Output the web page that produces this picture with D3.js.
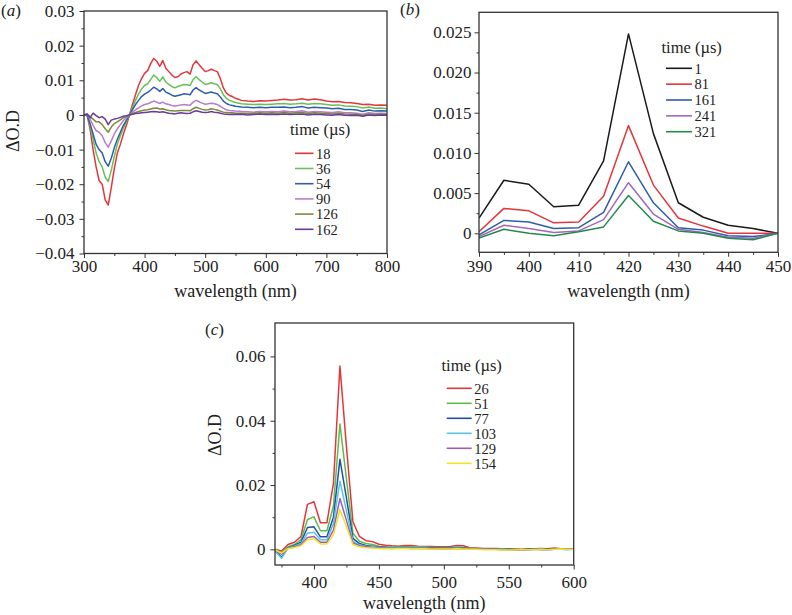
<!DOCTYPE html>
<html>
<head>
<meta charset="utf-8">
<script src="https://cdn.jsdelivr.net/npm/d3@7"></script>
<style>
  html, body { margin: 0; padding: 0; background: #fff; }
  svg { display: block; }
  svg text { font-family: "Liberation Serif", "Times New Roman", serif; fill: #222; }
</style>
</head>
<body>
<svg id="chart" width="792" height="615"></svg>
<script>
// ---------------- Panel (a) data ----------------
const wlA = [300,305,310,315,320,325,330,335,340,345,350,355,360,365,370,375,380,385,390,395,
  400,405,410,415,420,425,430,435,440,445,450,455,460,465,470,475,480,485,490,495,
  500,505,510,515,520,525,530,535,540,545,550,
  560,570,580,590,600,610,620,630,640,650,660,670,680,690,700,710,720,730,740,750,760,770,780,790,800];
const timesA = ["18","36","54","90","126","162"];
const a18 = [0,0,-0.004,-0.010,-0.015,-0.019,-0.020,-0.0245,-0.026,-0.021,-0.0155,-0.011,-0.0085,-0.0055,-0.003,0,0.003,0.0058,0.0085,0.0105,
  0.012,0.0128,0.0148,0.0163,0.0155,0.014,0.0157,0.0135,0.0125,0.0115,0.0108,0.011,0.0118,0.0122,0.0125,0.0118,0.0145,0.0156,0.0145,0.0135,
  0.0125,0.0128,0.0132,0.0128,0.0125,0.0105,0.0078,0.0063,0.0056,0.0053,0.0048,
  0.0042,0.0040,0.0039,0.0041,0.0040,0.0042,0.0043,0.0045,0.0043,0.0044,0.0047,0.0043,0.0046,0.0044,0.0040,0.0038,0.0039,0.0036,0.0035,0.0033,0.0030,0.0031,0.0028,0.0029,0.0028];
const a36 = [0,0,-0.003,-0.007,-0.011,-0.0135,-0.015,-0.018,-0.0192,-0.016,-0.012,-0.0085,-0.006,-0.0038,-0.002,0,0.0022,0.0042,0.006,0.0075,
  0.0085,0.009,0.0102,0.0115,0.0108,0.0097,0.011,0.0095,0.0088,0.0082,0.0078,0.0082,0.0085,0.0088,0.0087,0.0085,0.0102,0.011,0.0102,0.0095,
  0.0088,0.009,0.0093,0.009,0.0088,0.0075,0.0058,0.0048,0.0042,0.0039,0.0036,
  0.0032,0.0031,0.0030,0.0031,0.0030,0.0031,0.0032,0.0033,0.0031,0.0032,0.0034,0.0031,0.0033,0.0032,0.0030,0.0028,0.0029,0.0026,0.0025,0.0024,0.0020,0.0023,0.0019,0.0020,0.0018];
const a54 = [0,0,-0.0025,-0.0055,-0.0085,-0.010,-0.011,-0.0135,-0.0148,-0.0125,-0.0095,-0.007,-0.005,-0.003,-0.0015,0,0.0015,0.003,0.0042,0.0053,
  0.006,0.0065,0.0072,0.008,0.0075,0.0068,0.0076,0.0066,0.0062,0.0057,0.0054,0.0056,0.0058,0.0061,0.0060,0.0058,0.0072,0.0079,0.0072,0.0067,
  0.0062,0.0064,0.0066,0.0063,0.0061,0.0052,0.0040,0.0033,0.0029,0.0027,0.0025,
  0.0023,0.0022,0.0021,0.0022,0.0021,0.0022,0.0022,0.0023,0.0021,0.0022,0.0024,0.0020,0.0022,0.0021,0.0020,0.0018,0.0019,0.0016,0.0016,0.0014,0.0010,0.0014,0.0011,0.0012,0.0011];
const a90 = [0,0.0002,-0.0012,-0.003,-0.0045,-0.005,-0.006,-0.008,-0.0093,-0.0075,-0.0055,-0.004,-0.0028,-0.0016,-0.0008,0,0.0008,0.0015,0.002,0.0026,
  0.003,0.0032,0.0036,0.004,0.0037,0.0033,0.0037,0.0032,0.003,0.0027,0.0026,0.0027,0.0029,0.003,0.0029,0.0028,0.0037,0.0042,0.0038,0.0034,
  0.0031,0.0032,0.0034,0.0032,0.0030,0.0025,0.0019,0.0015,0.0013,0.0012,0.0011,
  0.0010,0.0009,0.0008,0.0010,0.0009,0.0010,0.0009,0.0011,0.0009,0.0010,0.0012,0.0008,0.0010,0.0009,0.0008,0.0007,0.0009,0.0006,0.0006,0.0005,0.0002,0.0006,0.0004,0.0005,0.0004];
const a126 = [0,0.0003,-0.0005,-0.0012,-0.002,-0.002,-0.0028,-0.004,-0.005,-0.0035,-0.0025,-0.002,-0.0014,-0.0008,-0.0004,0,0.0004,0.0007,0.001,0.0012,
  0.0014,0.0015,0.0017,0.0019,0.002,0.0017,0.0018,0.0015,0.0013,0.0012,0.0011,0.0012,0.0013,0.0013,0.0013,0.0012,0.0018,0.0022,0.0019,0.0016,
  0.0014,0.0015,0.0018,0.0016,0.0014,0.0011,0.0008,0.0007,0.0006,0.0006,0.0005,
  0.0005,0.0004,0.0004,0.0006,0.0005,0.0006,0.0005,0.0007,0.0005,0.0006,0.0007,0.0004,0.0006,0.0005,0.0004,0.0003,0.0005,0.0003,0.0002,0.0002,-0.0001,0.0003,0.0001,0.0002,0.0001];
const a162 = [0,0.0002,-0.0008,0.0005,-0.0002,-0.0008,-0.0005,-0.0012,-0.0028,-0.0015,-0.0012,-0.001,-0.0007,-0.0004,-0.0002,0,0.0002,0.0004,0.0005,0.0006,
  0.0007,0.0008,0.0009,0.001,0.0009,0.0008,0.0009,0.0007,0.0005,0.0004,0.0003,0.0005,0.0006,0.0005,0.0004,0.0005,0.0009,0.0012,0.001,0.0008,
  0.0007,0.0008,0.001,0.0008,0.0007,0.0005,0.0003,0.0002,0.0001,0.0002,0.0001,
  0.0002,0.0000,0.0001,0.0003,0.0001,0.0002,0.0001,0.0003,0.0001,0.0002,0.0003,0.0000,0.0002,0.0001,0.0000,-0.0001,0.0001,-0.0001,-0.0002,-0.0001,-0.0004,0.0000,-0.0002,0.0000,-0.0001];
const colorsA = ["#e2363b","#68c058","#2d5ea8","#b87cc9","#7b8a3a","#6b3a9a"];
const xTicksA = [300,400,500,600,700,800];
const yTicksA = [0.03,0.02,0.01,0,-0.01,-0.02,-0.03,-0.04];
const yLabelsA = ["0.03","0.02","0.01","0","\u22120.01","\u22120.02","\u22120.03","\u22120.04"];

// ---------------- Panel (b) data ----------------
const wlB = [390,395,400,405,410,415,420,425,430,435,440,445,450];
const timesB = ["1","81","161","241","321"];
const b1   = [0.0019,0.0066,0.0061,0.0033,0.0035,0.0090,0.0248,0.0124,0.0038,0.0020,0.0010,0.0006,0];
const b81  = [0.0002,0.0031,0.0028,0.0013,0.0014,0.0046,0.0134,0.0060,0.0019,0.0009,0,0,0];
const b161 = [-0.0002,0.0016,0.0014,0.0006,0.0007,0.0026,0.0089,0.0038,0.0007,0.0004,-0.0003,-0.0004,0];
const b241 = [-0.0004,0.0010,0.0006,0.0001,0.0003,0.0017,0.0063,0.0024,0.0005,0.0001,-0.0005,-0.0006,0];
const b321 = [-0.0006,0.0005,0,-0.0003,0.0002,0.0008,0.0047,0.0015,0.0003,0,-0.0006,-0.0008,0];
const colorsB = ["#1a1a1a","#e2363b","#2d5ea8","#a466b8","#238a4e"];
const xTicksB = [390,400,410,420,430,440,450];
const yTicksB = [0,0.005,0.010,0.015,0.020,0.025];
const yLabelsB = ["0","0.005","0.010","0.015","0.020","0.025"];

// ---------------- Panel (c) data ----------------
const wlC = [370,375,380,385,390,395,400,405,410,415,420,425,430,435,440,445,450,455,460,465,470,475,480,485,490,495,
  500,505,510,515,520,525,530,535,540,545,550,555,560,565,570,575,580,585,590,595,600];
const timesC = ["26","51","77","103","129","154"];
const c26 = [0,-0.0005,0.0015,0.0022,0.004,0.014,0.0148,0.0083,0.0083,0.0205,0.057,0.032,0.0086,0.004,0.0027,0.0024,0.0016,0.0013,0.0011,0.0010,0.0012,0.0012,0.0010,0.0009,0.0009,0.0008,
  0.0008,0.0009,0.0012,0.0011,0.0005,0.0004,0.0003,0.0003,0.0003,0.0002,0.0002,0.0001,0.0000,0.0001,0.0002,0.0003,0.0002,0.0004,0.0002,0.0001,0];
const c51 = [0,-0.001,0.0008,0.0015,0.003,0.0093,0.0101,0.0058,0.0058,0.0135,0.039,0.022,0.005,0.0025,0.0018,0.0015,0.0010,0.0008,0.0007,0.0008,0.0009,0.0008,0.0007,0.0007,0.0006,0.0006,
  0.0005,0.0006,0.0007,0.0006,0.0003,0.0003,0.0002,0.0002,0.0002,0.0001,0.0001,0.0000,-0.0001,0.0000,0.0001,0.0001,0.0000,0.0002,0.0001,0.0000,0];
const c77 = [-0.0003,-0.0025,0.0005,0.0012,0.0022,0.0068,0.007,0.0039,0.0039,0.010,0.028,0.016,0.0034,0.0018,0.0012,0.0010,0.0007,0.0006,0.0005,0.0006,0.0006,0.0005,0.0005,0.0005,0.0004,0.0004,
  0.0003,0.0004,0.0005,0.0004,0.0002,0.0002,0.0001,0.0001,0.0001,0.0000,0.0000,-0.0001,-0.0001,0.0000,0.0000,0.0001,0.0000,0.0001,0.0000,0.0000,0];
const c103 = [-0.0005,-0.0028,0.0004,0.001,0.0018,0.005,0.0053,0.003,0.003,0.008,0.0212,0.012,0.0025,0.0014,0.001,0.0008,0.0006,0.0005,0.0004,0.0005,0.0005,0.0004,0.0004,0.0004,0.0003,0.0003,
  0.0002,0.0003,0.0004,0.0003,0.0001,0.0001,0.0001,0.0000,0.0000,0.0000,-0.0001,-0.0001,-0.0002,-0.0001,0.0000,0.0000,-0.0001,0.0000,0.0000,-0.0001,0];
const c129 = [-0.0003,-0.0015,0.0003,0.0008,0.0014,0.0037,0.004,0.0022,0.0022,0.006,0.0158,0.009,0.002,0.0011,0.0008,0.0006,0.0005,0.0004,0.0003,0.0004,0.0004,0.0003,0.0003,0.0003,0.0002,0.0002,
  0.0002,0.0002,0.0003,0.0002,0.0001,0.0001,0.0000,0.0000,0.0000,-0.0001,-0.0001,-0.0002,-0.0001,-0.0001,0.0000,-0.0001,-0.0001,0.0000,0.0000,0.0000,0];
const c154 = [-0.0002,-0.0012,0.0002,0.0006,0.0011,0.003,0.0033,0.0017,0.0017,0.0045,0.0124,0.007,0.0015,0.0008,0.0005,0.0004,0.0003,0.0002,0.0002,0.0003,0.0003,0.0002,0.0002,0.0002,0.0001,0.0001,
  0.0001,0.0001,0.0002,0.0001,0.0000,0.0000,-0.0001,-0.0001,-0.0001,-0.0002,-0.0002,-0.0002,-0.0001,-0.0001,-0.0001,0.0000,-0.0001,0.0000,0.0001,0.0000,0];
const colorsC = ["#e2363b","#5fbb4c","#22509f","#5cc4e2","#9c5fb5","#f2e227"];
const xTicksC = [400,450,500,550,600];
const yTicksC = [0,0.02,0.04,0.06];
const yLabelsC = ["0","0.02","0.04","0.06"];

// ---------------- drawing ----------------
const svg = d3.select("#chart");
const SERIF = "'Liberation Serif', 'Times New Roman', serif";
const FONT = 17;
const LEGFONT = 14.5;

function txt(sel, size) {
  return sel.attr("font-family", SERIF).style("font-family", SERIF)
    .style("font-size", size + "px").attr("fill", "#222");
}

function panel(cfg) {
  const g = svg.append("g");
  const x = d3.scaleLinear().domain(cfg.xDomain).range([cfg.left, cfg.right]);
  const y = d3.scaleLinear().domain(cfg.yDomain).range([cfg.bottom, cfg.top]);

  const clipId = "clip" + cfg.id;
  svg.append("clipPath").attr("id", clipId).append("rect")
    .attr("x", cfg.left).attr("y", cfg.top)
    .attr("width", cfg.right - cfg.left).attr("height", cfg.bottom - cfg.top);

  const line = d3.line().x(d => x(d[0])).y(d => y(d[1]));
  const lg = g.append("g").attr("clip-path", `url(#${clipId})`);
  cfg.series.forEach((s, i) => {
    lg.append("path")
      .datum(cfg.wl.map((w, k) => [w, s[k]]))
      .attr("fill", "none")
      .attr("stroke", cfg.colors[i])
      .attr("stroke-width", 1.5)
      .attr("stroke-linejoin", "round")
      .attr("d", line);
  });

  // minor ticks
  g.append("g").attr("transform", `translate(0,${cfg.bottom})`)
    .call(d3.axisBottom(x).tickValues(cfg.xMinor).tickSize(2.5).tickFormat(""))
    .call(a => a.select(".domain").remove());
  g.append("g").attr("transform", `translate(${cfg.left},0)`)
    .call(d3.axisLeft(y).tickValues(cfg.yMinor).tickSize(2.5).tickFormat(""))
    .call(a => a.select(".domain").remove());

  // major axes
  const xa = g.append("g").attr("transform", `translate(0,${cfg.bottom})`)
    .call(d3.axisBottom(x).tickValues(cfg.xTicks).tickSize(4.5).tickPadding(cfg.xPad).tickFormat(d3.format("d")));
  xa.select(".domain").remove();
  txt(xa, FONT); txt(xa.selectAll("text"), FONT);

  const ya = g.append("g").attr("transform", `translate(${cfg.left},0)`)
    .call(d3.axisLeft(y).tickValues(cfg.yTicks).tickSize(4.5).tickPadding(cfg.yPad)
      .tickFormat((d, i) => cfg.yLabels[i]));
  ya.select(".domain").remove();
  txt(ya, FONT); txt(ya.selectAll("text"), FONT);
  g.selectAll(".tick line").attr("stroke", "#333").attr("stroke-width", 1);

  // frame
  g.append("rect")
    .attr("x", cfg.left).attr("y", cfg.top)
    .attr("width", cfg.right - cfg.left).attr("height", cfg.bottom - cfg.top)
    .attr("fill", "none").attr("stroke", "#333").attr("stroke-width", 1.3);

  // axis titles
  txt(g.append("text"), 18)
    .attr("x", (cfg.left + cfg.right) / 2).attr("y", cfg.xTitleY)
    .attr("text-anchor", "middle")
    .text("wavelength (nm)");
  if (cfg.yTitleX != null) {
    txt(g.append("text"), 18)
      .attr("transform", `translate(${cfg.yTitleX},${cfg.yTitleY}) rotate(-90)`)
      .attr("text-anchor", "middle").attr("dy", "0.35em")
      .text("\u0394O.D");
  }

  // panel label
  const pl = txt(g.append("text"), 17).attr("x", cfg.labelX).attr("y", cfg.labelY);
  pl.append("tspan").text("(");
  pl.append("tspan").style("font-style", "italic").text(cfg.letter);
  pl.append("tspan").text(")");

  // legend
  txt(g.append("text"), 16.5).attr("x", cfg.legTitleX).attr("y", cfg.legTitleY)
    .text("time (\u00b5s)");
  cfg.times.forEach((t, i) => {
    const yy = cfg.legY0 + i * cfg.legDy;
    g.append("line").attr("x1", cfg.legX1).attr("x2", cfg.legX2)
      .attr("y1", yy).attr("y2", yy)
      .attr("stroke", cfg.colors[i]).attr("stroke-width", 1.6);
    txt(g.append("text"), LEGFONT).attr("x", cfg.legX2 + 2.5).attr("y", yy).attr("dy", "0.36em")
      .text(t);
  });
}

panel({
  id: "A", letter: "a",
  wl: wlA, series: [a18, a36, a54, a90, a126, a162], colors: colorsA, times: timesA,
  xDomain: [300, 800], yDomain: [-0.04, 0.03],
  left: 84, right: 387, top: 11, bottom: 253.5,
  xTicks: xTicksA, xMinor: [350,450,550,650,750],
  yTicks: yTicksA, yLabels: yLabelsA, yMinor: [0.025,0.015,0.005,-0.005,-0.015,-0.025,-0.035],
  xPad: 2, yPad: 5,
  xTitleY: 296.5, yTitleX: 13, yTitleY: 131,
  labelX: 1, labelY: 16,
  legTitleX: 290, legTitleY: 135,
  legX1: 295, legX2: 313.5, legY0: 153.3, legDy: 15.2
});

panel({
  id: "B", letter: "b",
  wl: wlB, series: [b1, b81, b161, b241, b321], colors: colorsB, times: timesB,
  xDomain: [390, 450], yDomain: [-0.00236, 0.02749],
  left: 479, right: 778, top: 12.3, bottom: 252.3,
  xTicks: xTicksB, xMinor: [395,405,415,425,435,445],
  yTicks: yTicksB, yLabels: yLabelsB, yMinor: [0.0025,0.0075,0.0125,0.0175,0.0225],
  xPad: 3, yPad: 3,
  xTitleY: 296.5, yTitleX: null,
  labelX: 400, labelY: 15,
  legTitleX: 661.5, legTitleY: 53,
  legX1: 666, legX2: 692, legY0: 68.3, legDy: 15.85
});

panel({
  id: "C", letter: "c",
  wl: wlC, series: [c26, c51, c77, c103, c129, c154], colors: colorsC, times: timesC,
  xDomain: [370, 600], yDomain: [-0.00487, 0.0704],
  left: 275, right: 573.7, top: 323, bottom: 565,
  xTicks: xTicksC, xMinor: [375,425,475,525,575],
  yTicks: yTicksC, yLabels: yLabelsC, yMinor: [0.01,0.03,0.05],
  xPad: 6, yPad: 5,
  xTitleY: 609, yTitleX: 215, yTitleY: 435,
  labelX: 205, labelY: 335,
  legTitleX: 441.5, legTitleY: 371,
  legX1: 446.7, legX2: 471.7, legY0: 388.3, legDy: 15
});
</script>
</body>
</html>
